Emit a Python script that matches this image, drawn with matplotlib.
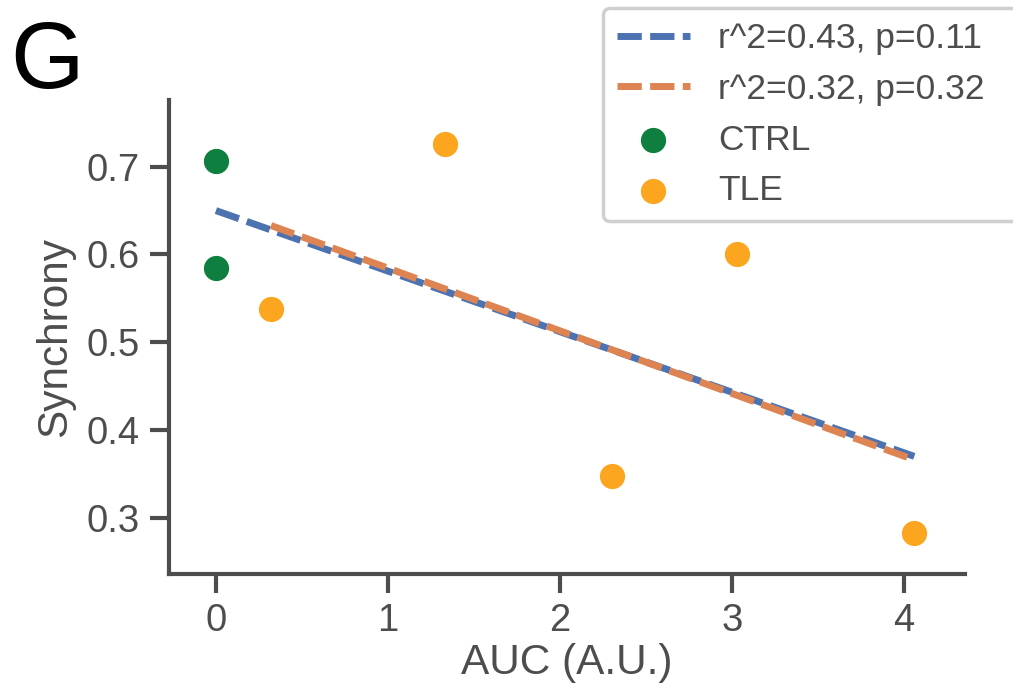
import matplotlib
matplotlib.use("Agg")
import matplotlib.pyplot as plt

plt.rcParams['font.family'] = ['Liberation Sans', 'DejaVu Sans']

# Data
ctrl_x = [0.0, 0.0]
ctrl_y = [0.706, 0.585]
tle_x = [0.32, 1.33, 2.30, 3.03, 4.06]
tle_y = [0.538, 0.726, 0.348, 0.601, 0.283]
fit_all_x = [0.0, 4.06]
fit_all_y = [0.650, 0.370]
fit_tle_x = [0.32, 4.06]
fit_tle_y = [0.633, 0.366]
label_all = "r^2=0.43, p=0.11"
label_tle = "r^2=0.32, p=0.32"
xticks = [0, 1, 2, 3, 4]
yticks = [0.3, 0.4, 0.5, 0.6, 0.7]

gray = "#4d4d4d"
fig = plt.figure(figsize=(10.13, 6.87), dpi=100)
ax = fig.add_axes([169/1013, 1-574/687, (965-169)/1013, (574-100)/687])

ax.plot(fit_all_x, fit_all_y, ls="--", dashes=(3.5, 1.2), color="#4C72B0", lw=5,
        label=label_all, zorder=2)
ax.plot(fit_tle_x, fit_tle_y, ls="--", dashes=(3.5, 1.2), color="#DD8452", lw=5,
        label=label_tle, zorder=2)
ax.scatter(ctrl_x, ctrl_y, s=330, color="#0e7f3e", label="CTRL", zorder=3, linewidths=0)
ax.scatter(tle_x, tle_y, s=330, color="#fca51f", label="TLE", zorder=3, linewidths=0)

ax.set_xlim(-0.273, 4.355)
ax.set_ylim(0.236, 0.776)
ax.set_xticks(xticks)
ax.set_yticks(yticks)
ax.set_xticklabels([str(t) for t in xticks])
ax.set_yticklabels([f"{t:.1f}" for t in yticks])

for s in ["top", "right"]:
    ax.spines[s].set_visible(False)
for s in ["left", "bottom"]:
    ax.spines[s].set_linewidth(3)
    ax.spines[s].set_color(gray)
ax.tick_params(axis="both", length=14, width=3, color=gray, labelcolor=gray,
               labelsize=27.5, pad=7)

ax.set_xlabel("AUC (A.U.)", fontsize=30.5, color=gray, labelpad=3)
ax.set_ylabel("Synchrony", fontsize=30.5, color=gray, labelpad=8)

fig.text(10/1013, 1-88/687, "G", fontsize=68, color="black", ha="left", va="baseline")

leg = fig.legend(loc="upper left", bbox_to_anchor=(603/1013, 1-8/687, 0.45, 0),
                 mode="expand", fontsize=25.5,
                 frameon=True, fancybox=True, framealpha=1, edgecolor="#d0d0d0",
                 handlelength=2.05, handletextpad=0.8, labelspacing=0.5,
                 borderpad=0.4, borderaxespad=0, markerscale=1.0)
for t in leg.get_texts():
    t.set_color(gray)
leg.get_frame().set_linewidth(2.5)

fig.savefig("out.png", dpi=100)
